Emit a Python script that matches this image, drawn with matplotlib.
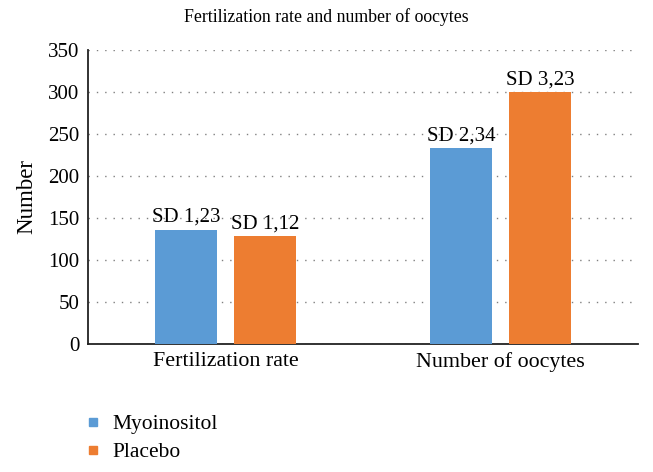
import matplotlib.pyplot as plt
import numpy as np
from matplotlib.lines import Line2D

categories = ["Fertilization rate", "Number of oocytes"]
myoinositol = [136, 233]
placebo = [128, 300]
myo_sd = ["SD 1,23", "SD 2,34"]
placebo_sd = ["SD 1,12", "SD 3,23"]
y_ticks = [0, 50, 100, 150, 200, 250, 300, 350]

blue = "#5B9BD5"
orange = "#ED7D31"

plt.rcParams["font.family"] = ["Liberation Serif", "DejaVu Serif"]

fig = plt.figure(figsize=(6.53, 4.72), dpi=100)
ax = fig.add_axes([88 / 653, 1 - 344 / 472, 550 / 653, 294 / 472])

x = np.arange(len(categories))
w = 0.225
off = 0.143
b1 = ax.bar(x - off, myoinositol, w, color=blue, zorder=3)
b2 = ax.bar(x + off, placebo, w, color=orange, zorder=3)

# SD labels above the bars
for bars, labels in ((b1, myo_sd), (b2, placebo_sd)):
    for rect, lab in zip(bars, labels):
        ax.annotate(lab, (rect.get_x() + rect.get_width() / 2, rect.get_height()),
                    xytext=(0, 2), textcoords="offset points",
                    ha="center", va="bottom", fontsize=15, zorder=4)

ax.set_xlim(-0.5, 1.5)
ax.set_ylim(0, 350)
ax.set_yticks(y_ticks)
ax.set_xticks(x)
ax.set_xticklabels(categories, fontsize=15.8)
ax.tick_params(axis="y", length=0, labelsize=15, pad=6)
ax.tick_params(axis="x", length=0, pad=6)

ax.set_axisbelow(True)
ax.yaxis.grid(True, linestyle=(0, (1, 5)), color="#808080", linewidth=1)
for s in ("top", "right"):
    ax.spines[s].set_visible(False)
for s in ("left", "bottom"):
    ax.spines[s].set_linewidth(1.3)
    ax.spines[s].set_color("#222222")

ax.set_ylabel("Number", fontsize=16.5, labelpad=8)
fig.text(0.5, 1 - 17 / 472, "Fertilization rate and number of oocytes",
         ha="center", va="center", fontsize=12.8)

handles = [Line2D([], [], marker="s", linestyle="none", color=blue, markersize=6),
           Line2D([], [], marker="s", linestyle="none", color=orange, markersize=6)]
fig.legend(handles, ["Myoinositol", "Placebo"], loc="upper left",
           bbox_to_anchor=(89 / 653, 1 - 414 / 472), frameon=False,
           fontsize=15.5, borderpad=0, borderaxespad=0,
           handlelength=0.4, handletextpad=0.67, labelspacing=0.38)

fig.savefig("out.png", dpi=100)
